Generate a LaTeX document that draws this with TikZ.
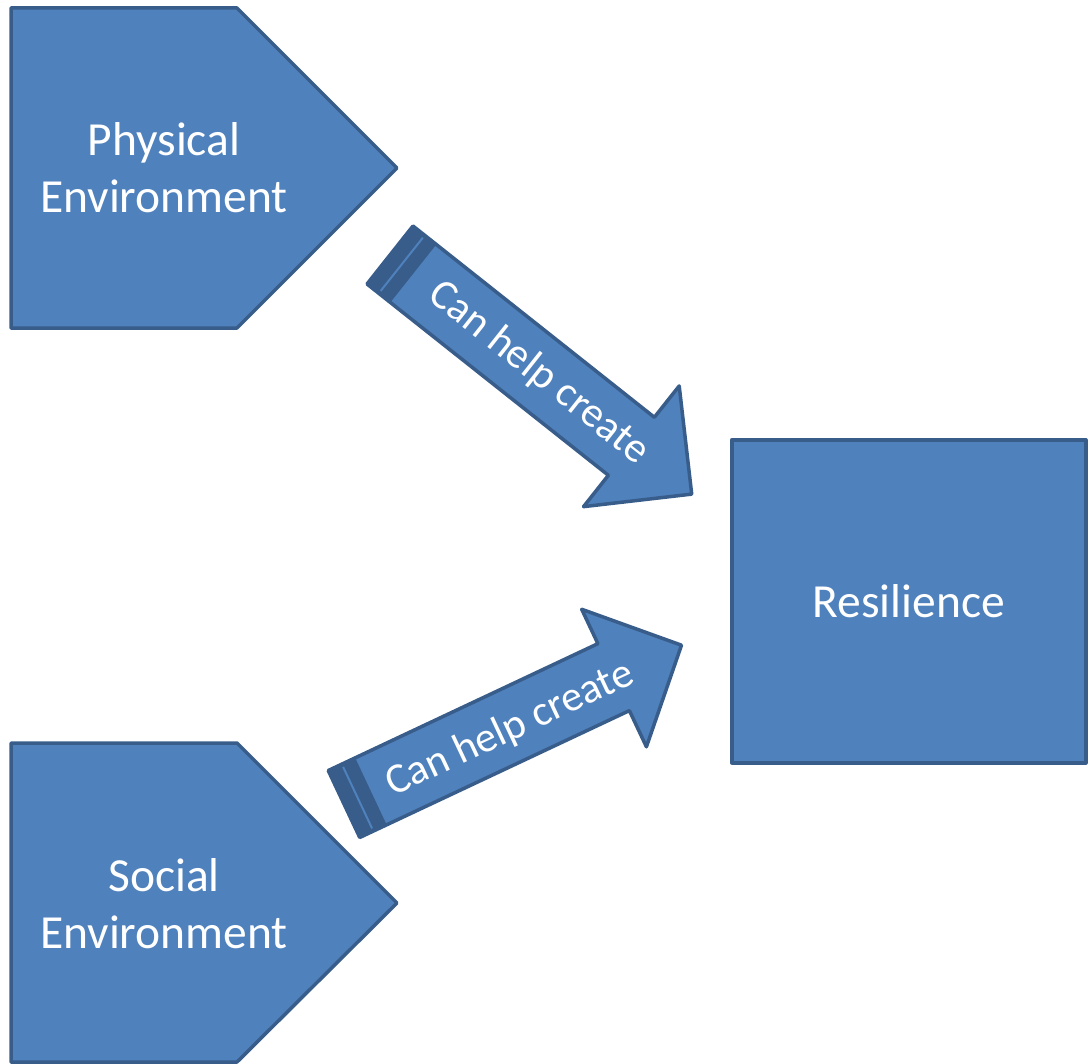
\documentclass[tikz,border=0pt]{standalone}
\usepackage{fontspec}
\setmainfont{Carlito}
\definecolor{boxfill}{HTML}{4F81BD}
\definecolor{boxline}{HTML}{385D8A}
\tikzset{
  blockshape/.style={fill=boxfill, draw=boxline, line width=3.5pt, line join=round},
  bigtext/.style={text=white, align=center, inner sep=0pt, font=\fontsize{47.5}{57}\selectfont},
  arrowtext/.style={text=white, inner sep=0pt, font=\fontsize{42.5}{50}\selectfont},
  stripeband/.style={fill=boxline, draw=boxline, line width=3.5pt, line join=round},
  stripeline/.style={draw=boxfill, line width=2pt}
}
\begin{document}
\begin{tikzpicture}[x=1pt,y=1pt]
\useasboundingbox (0,0) rectangle (1091,-1064);
% Physical Environment pentagon
\draw[blockshape] (11,-8) -- (237,-8) -- (397,-168) -- (237,-328) -- (11,-328) -- cycle;
\node[bigtext] (phys) at (164,-167.5) {Physical\\Environment};
% Social Environment pentagon
\draw[blockshape] (11,-743) -- (237,-743) -- (397,-903) -- (237,-1062) -- (11,-1062) -- cycle;
\node[bigtext] (soc) at (164,-904) {Social\\Environment};
% Resilience box
\node[blockshape, minimum width=354pt, minimum height=323pt, inner sep=0pt, anchor=north west,
      text=white, font=\fontsize{47.5}{57}\selectfont] (res) at (730,-438) {Resilience};
% Arrow 1 (down-right)
\coordinate (a1) at (390,-255);
\begin{scope}[shift={(a1)}, rotate=-38.4]
  \draw[stripeband] (0,-37) rectangle (28,37);
  \draw[stripeline] (15,-34) -- (15,34);
  \draw[blockshape] (28,37) -- (308,37) -- (308,77) -- (385,0) -- (308,-77) -- (308,-37) -- (28,-37) -- cycle;
  \node[arrowtext, rotate=-38.4] (lab1) at (190,0) {Can help create};
\end{scope}
% Arrow 2 (up-right)
\coordinate (a2) at (344,-804);
\begin{scope}[shift={(a2)}, rotate=25.2]
  \draw[stripeband] (0,-37) rectangle (28,37);
  \draw[stripeline] (15,-34) -- (15,34);
  \draw[blockshape] (28,37) -- (298,37) -- (298,75) -- (373,0) -- (298,-77) -- (298,-37) -- (28,-37) -- cycle;
  \node[arrowtext, rotate=25.2] (lab2) at (182,-3) {Can help create};
\end{scope}
\end{tikzpicture}
\end{document}
